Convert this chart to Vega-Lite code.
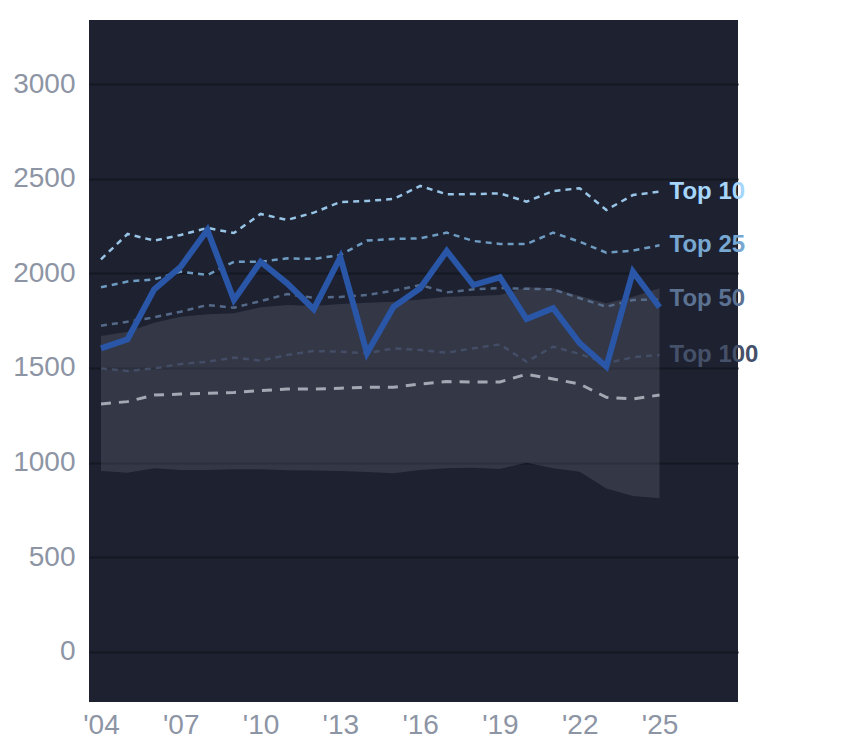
{
  "$schema": "https://vega.github.io/schema/vega-lite/v6.json",
  "autosize": "none",
  "width": 649,
  "height": 682,
  "padding": {"left": 89, "top": 20, "right": 106, "bottom": 46},
  "background": "white",
  "config": {
    "font": "Liberation Sans",
    "view": {"fill": "#1d2130", "stroke": null},
    "axis": {
      "labelFont": "Liberation Sans",
      "labelFontSize": 28,
      "labelColor": "#8d95a5",
      "domain": false,
      "ticks": false,
      "title": null
    }
  },
  "data": {
    "values": [
      {"year": 2004, "Top 10": 2075, "Top 25": 1927, "Top 50": 1724, "Top 100": 1498, "med": 1310, "lo": 955, "hi": 1669, "val": 1604},
      {"year": 2005, "Top 10": 2209, "Top 25": 1957, "Top 50": 1745, "Top 100": 1484, "med": 1322, "lo": 946, "hi": 1692, "val": 1652},
      {"year": 2006, "Top 10": 2174, "Top 25": 1969, "Top 50": 1768, "Top 100": 1498, "med": 1357, "lo": 969, "hi": 1740, "val": 1916},
      {"year": 2007, "Top 10": 2204, "Top 25": 2010, "Top 50": 1798, "Top 100": 1521, "med": 1362, "lo": 960, "hi": 1771, "val": 2036},
      {"year": 2008, "Top 10": 2241, "Top 25": 1992, "Top 50": 1833, "Top 100": 1533, "med": 1366, "lo": 960, "hi": 1784, "val": 2230},
      {"year": 2009, "Top 10": 2214, "Top 25": 2062, "Top 50": 1819, "Top 100": 1555, "med": 1371, "lo": 964, "hi": 1789, "val": 1860},
      {"year": 2010, "Top 10": 2315, "Top 25": 2062, "Top 50": 1854, "Top 100": 1539, "med": 1380, "lo": 964, "hi": 1821, "val": 2062},
      {"year": 2011, "Top 10": 2283, "Top 25": 2080, "Top 50": 1891, "Top 100": 1569, "med": 1389, "lo": 959, "hi": 1833, "val": 1948},
      {"year": 2012, "Top 10": 2322, "Top 25": 2077, "Top 50": 1872, "Top 100": 1590, "med": 1389, "lo": 958, "hi": 1828, "val": 1811},
      {"year": 2013, "Top 10": 2378, "Top 25": 2098, "Top 50": 1876, "Top 100": 1586, "med": 1393, "lo": 955, "hi": 1838, "val": 2086},
      {"year": 2014, "Top 10": 2384, "Top 25": 2174, "Top 50": 1886, "Top 100": 1578, "med": 1398, "lo": 950, "hi": 1845, "val": 1578},
      {"year": 2015, "Top 10": 2394, "Top 25": 2183, "Top 50": 1909, "Top 100": 1604, "med": 1398, "lo": 943, "hi": 1851, "val": 1824},
      {"year": 2016, "Top 10": 2463, "Top 25": 2186, "Top 50": 1939, "Top 100": 1595, "med": 1415, "lo": 960, "hi": 1863, "val": 1922},
      {"year": 2017, "Top 10": 2419, "Top 25": 2216, "Top 50": 1900, "Top 100": 1581, "med": 1428, "lo": 969, "hi": 1877, "val": 2119},
      {"year": 2018, "Top 10": 2420, "Top 25": 2172, "Top 50": 1916, "Top 100": 1604, "med": 1426, "lo": 972, "hi": 1881, "val": 1939},
      {"year": 2019, "Top 10": 2424, "Top 25": 2156, "Top 50": 1923, "Top 100": 1625, "med": 1426, "lo": 966, "hi": 1886, "val": 1980},
      {"year": 2020, "Top 10": 2380, "Top 25": 2156, "Top 50": 1919, "Top 100": 1533, "med": 1467, "lo": 999, "hi": 1927, "val": 1759},
      {"year": 2021, "Top 10": 2436, "Top 25": 2216, "Top 50": 1916, "Top 100": 1613, "med": 1442, "lo": 969, "hi": 1922, "val": 1816},
      {"year": 2022, "Top 10": 2451, "Top 25": 2168, "Top 50": 1869, "Top 100": 1574, "med": 1415, "lo": 951, "hi": 1881, "val": 1631},
      {"year": 2023, "Top 10": 2336, "Top 25": 2110, "Top 50": 1824, "Top 100": 1525, "med": 1345, "lo": 863, "hi": 1842, "val": 1507},
      {"year": 2024, "Top 10": 2415, "Top 25": 2121, "Top 50": 1860, "Top 100": 1557, "med": 1336, "lo": 823, "hi": 1877, "val": 2010},
      {"year": 2025, "Top 10": 2433, "Top 25": 2149, "Top 50": 1863, "Top 100": 1569, "med": 1357, "lo": 811, "hi": 1922, "val": 1821}
    ]
  },
  "encoding": {
    "x": {
      "field": "year",
      "type": "quantitative",
      "scale": {"domain": [2003.55, 2027.95], "nice": false, "zero": false},
      "axis": {
        "values": [2004, 2007, 2010, 2013, 2016, 2019, 2022, 2025],
        "labelExpr": "\"'\" + substring(toString(datum.value), 2, 4)",
        "labelPadding": 9,
        "grid": false
      }
    }
  },
  "layer": [
    {
      "mark": {"type": "area", "color": "#a4a8b6", "opacity": 0.17},
      "encoding": {
        "y": {
          "field": "lo",
          "type": "quantitative",
          "scale": {"domain": [-267, 3341], "nice": false, "zero": false},
          "axis": {
            "values": [0, 500, 1000, 1500, 2000, 2500, 3000],
            "format": "d",
            "grid": true,
            "gridColor": "#141823",
            "gridWidth": 2,
            "labelPadding": 14
          }
        },
        "y2": {"field": "hi"}
      }
    },
    {
      "mark": {"type": "line", "color": "#a3a8b3", "strokeWidth": 3, "strokeDash": [10, 8]},
      "encoding": {"y": {"field": "med", "type": "quantitative"}}
    },
    {
      "transform": [{"fold": ["Top 10", "Top 25", "Top 50", "Top 100"], "as": ["tier", "value"]}],
      "mark": {"type": "line", "strokeWidth": 2.5, "strokeDash": [6, 5], "opacity": 0.9},
      "encoding": {
        "y": {"field": "value", "type": "quantitative"},
        "color": {
          "field": "tier",
          "type": "nominal",
          "scale": {"domain": ["Top 10", "Top 25", "Top 50", "Top 100"], "range": ["#a6d6fb", "#78a8d2", "#5b7292", "#455069"]},
          "legend": null
        }
      }
    },
    {
      "mark": {"type": "line", "color": "#2a56a8", "strokeWidth": 6},
      "encoding": {"y": {"field": "val", "type": "quantitative"}}
    },
    {
      "transform": [
        {"filter": "datum.year == 2025"},
        {"fold": ["Top 10", "Top 25", "Top 50", "Top 100"], "as": ["tier", "value"]}
      ],
      "mark": {"type": "text", "align": "left", "baseline": "middle", "dx": 10, "fontSize": 24, "fontWeight": "bold", "font": "Liberation Sans"},
      "encoding": {
        "y": {"field": "value", "type": "quantitative"},
        "text": {"field": "tier"},
        "color": {"field": "tier", "type": "nominal", "legend": null}
      }
    }
  ]
}
